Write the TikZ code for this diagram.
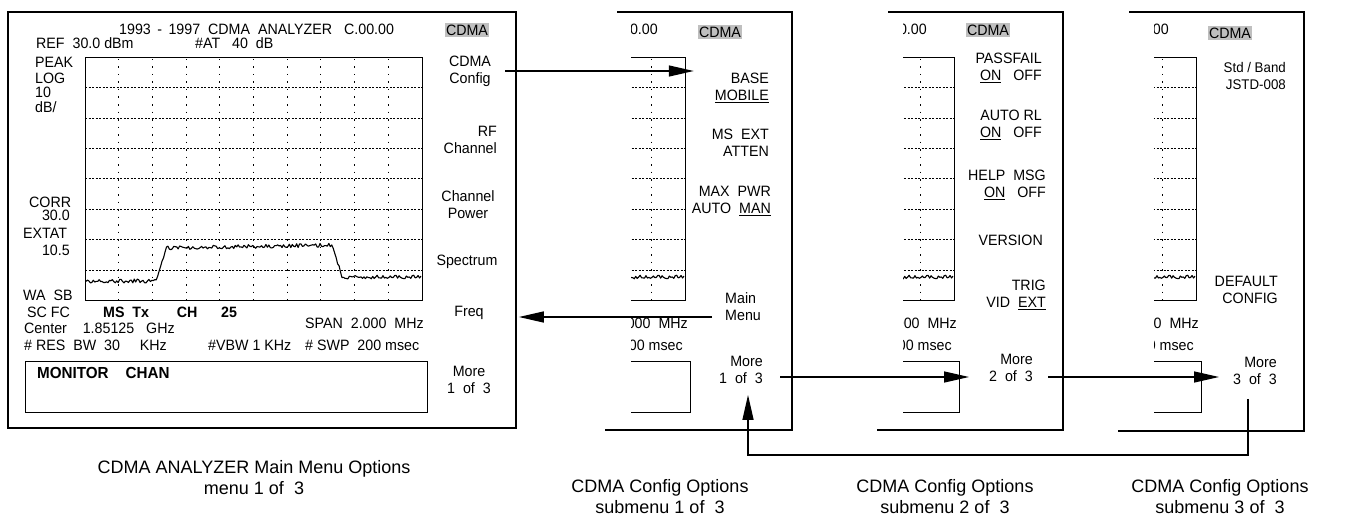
\documentclass[tikz,border=0pt]{standalone}
\usepackage{fontspec}
\setmainfont{Liberation Sans}
\newfontfamily\scrfont[FakeStretch=0.95]{Liberation Sans}
\usetikzlibrary{positioning, arrows.meta}

% graticule, sweep and message box of the analyzer screen
\newcommand{\screengrid}{%
  \pgfmathsetseed{7}%
  \draw[thick] (85,57) rectangle (422,300);
  \foreach \gy in {1,...,7}
    \draw[hgrid] (85,{57+30.4*\gy}) -- (422,{57+30.4*\gy});
  \foreach \gx in {1,...,9}
    \draw[vgrid] ({85+33.7*\gx},59) -- ({85+33.7*\gx},300);
  \draw[sweep] plot[domain=86:421, samples=230] (\x,{tracey(\x)+1.9*rand});
  \draw (25,361) rectangle (427,412);
}

\begin{document}
\begin{tikzpicture}[x=1pt, y=-1pt,
  declare function={tracey(\t)=(\t<156) ? 281 : ((\t<167) ? 281-34*(\t-156)/11 : ((\t<332) ? 248-3*(\t-167)/165 : ((\t<342) ? 245+32*(\t-332)/10 : 277)));}]

  \tikzstyle{scr}=[font=\scrfont\fontsize{15}{17}\selectfont, inner sep=0pt]
  \tikzstyle{scrb}=[scr, font=\scrfont\bfseries\fontsize{15}{17}\selectfont]
  \tikzstyle{softkey}=[scr, align=center]
  \tikzstyle{rkey}=[scr, align=right, anchor=east]
  \tikzstyle{hilite}=[scr, fill=black!25, inner sep=1.5pt]
  \tikzstyle{panel}=[line width=1.5pt]
  \tikzstyle{hgrid}=[line width=.6pt, dash pattern=on 2pt off 1.5pt]
  \tikzstyle{vgrid}=[line width=.9pt, dash pattern=on 1.5pt off 6pt]
  \tikzstyle{sweep}=[line width=1.1pt, line join=round]
  \tikzstyle{arr}=[line width=1.4pt, -{Triangle[length=25pt, width=11pt]}]
  \tikzstyle{capt}=[align=center, font=\fontsize{18}{21}\selectfont]

  \useasboundingbox[fill=white] (0,0) rectangle (1350,519);

  % main menu screen
  \draw[panel] (8,12) rectangle (516,428);
  \screengrid
  \node[scr, anchor=base west] (m-title) at (119,35) {1993 \,-\, 1997 \ CDMA \ ANALYZER \ \ C.00.00};
  \node[scr, anchor=base west] (m-ref) at (36,49) {REF \ 30.0 dBm};
  \node[scr, anchor=base west] (m-att) at (195,49) {\#AT \ \ 40 \ dB};
  \node[scr, anchor=base west] (m-peak) at (35,67) {PEAK};
  \node[scr, anchor=base west] (m-log) at (35,84) {LOG};
  \node[scr, anchor=base west] (m-ten) at (35,98) {10};
  \node[scr, anchor=base west] (m-db) at (35,112) {dB/};
  \node[scr, anchor=base west] (m-corr) at (29,207) {CORR};
  \node[scr, anchor=base east] (m-corrv) at (70,220) {30.0};
  \node[scr, anchor=base west] (m-extat) at (23,238) {EXTAT};
  \node[scr, anchor=base east] (m-extatv) at (70,255) {10.5};
  \node[scr, anchor=base west] (m-wasb) at (23,300) {WA \ SB};
  \node[scr, anchor=base west] (m-scfc) at (27,317) {SC FC};
  \node[scrb, anchor=base west] (m-chan) at (103,317) {MS \ Tx \ \ \ \ \ \ CH \ \ \ \ \ 25};
  \node[scr, anchor=base west] (m-center) at (24,333) {Center \ \ \ 1.85125 \ \ GHz};
  \node[scr, anchor=base west] (m-span) at (305,328) {SPAN \ 2.000 \ MHz};
  \node[scr, anchor=base west] (m-res) at (24,350) {\# RES \ BW \ 30 \ \ \ \ KHz};
  \node[scr, anchor=base west] (m-vbw) at (208,350) {\#VBW 1 KHz};
  \node[scr, anchor=base west] (m-swp) at (305,350) {\# SWP \ 200 msec};
  \node[scrb, anchor=base west, font=\scrfont\bfseries\fontsize{16}{17}\selectfont] (m-msg) at (37,378) {MONITOR \ \ \ CHAN};

  \node[hilite] (m-cdma) at (467,30) {CDMA};
  \node[softkey] (m-cfg) at (470,71) {CDMA\\Config};
  \node[rkey] (m-rf) at (497,140) {RF\\Channel};
  \node[softkey] (m-pwr) at (468,205) {Channel\\Power};
  \node[softkey] (m-spec) at (467,262) {Spectrum};
  \node[softkey] (m-freq) at (469,313) {Freq};
  \node[softkey] (m-more) at (469,380) {More\\1 \ of \ 3};

  % submenu 1
  \begin{scope}
    \clip (631,15) rectangle (700,425);
    \begin{scope}[xshift=263pt]
      \screengrid
      \node[scr, anchor=base east] (a-ver) at (395,35) {C.00.00};
      \node[scr, anchor=base east] (a-span) at (425,328) {2.000 \ MHz};
      \node[scr, anchor=base east] (a-swp) at (420,350) {200 msec};
    \end{scope}
  \end{scope}
  \draw[panel] (617,12) -- (792,12) -- (792,430) -- (605,430);
  \node[hilite] (s1-cdma) at (720,32) {CDMA};
  \node[rkey] (s1-base) at (769,88) {BASE\\\underline{MOBILE}};
  \node[rkey] (s1-ext) at (769,143) {MS \ EXT\\ATTEN};
  \node[rkey] (s1-max) at (771,201) {MAX \ PWR\\AUTO \ \underline{MAN}};
  \node[scr, align=left, anchor=west] (s1-main) at (725,307) {Main\\Menu};
  \node[rkey] (s1-more) at (763,370) {More\\1 \ of \ 3};

  % submenu 2
  \begin{scope}
    \clip (903,15) rectangle (970,425);
    \begin{scope}[xshift=532pt]
      \screengrid
      \node[scr, anchor=base east] (b-ver) at (395,35) {C.00.00};
      \node[scr, anchor=base east] (b-span) at (425,328) {2.000 \ MHz};
      \node[scr, anchor=base east] (b-swp) at (420,350) {200 msec};
    \end{scope}
  \end{scope}
  \draw[panel] (888,12) -- (1063,12) -- (1063,430) -- (877,430);
  \node[hilite] (s2-cdma) at (988,30) {CDMA};
  \node[rkey] (s2-pass) at (1042,68) {PASSFAIL\\\underline{ON} \ \ OFF};
  \node[rkey] (s2-arl) at (1042,125) {AUTO RL\\\underline{ON} \ \ OFF};
  \node[rkey] (s2-help) at (1046,185) {HELP \ MSG\\\underline{ON} \ \ OFF};
  \node[rkey] (s2-ver) at (1043,240) {VERSION};
  \node[rkey] (s2-trig) at (1046,295) {TRIG\\VID \ \underline{EXT}};
  \node[rkey] (s2-more) at (1033,368) {More\\2 \ of \ 3};

  % submenu 3
  \begin{scope}
    \clip (1154,15) rectangle (1210,425);
    \begin{scope}[xshift=774pt]
      \screengrid
      \node[scr, anchor=base east] (c-ver) at (395,35) {C.00.00};
      \node[scr, anchor=base east] (c-span) at (425,328) {2.000 \ MHz};
      \node[scr, anchor=base east] (c-swp) at (420,350) {200 msec};
    \end{scope}
  \end{scope}
  \draw[panel] (1129,12) -- (1304,12) -- (1304,431) -- (1118,431);
  \node[hilite] (s3-cdma) at (1230,33) {CDMA};
  \node[rkey, font=\scrfont\fontsize{14}{17}\selectfont] (s3-std) at (1286,76) {Std / Band\\JSTD-008};
  \node[rkey] (s3-def) at (1278,290) {DEFAULT\\CONFIG};
  \node[rkey] (s3-more) at (1277,371) {More\\3 \ of \ 3};

  \coordinate (ret) at (1000,455);

  \draw[arr] ([xshift=14pt]m-cfg.east) -- ([xshift=-21pt]s1-base.west |- m-cfg.east);
  \draw[arr] ([xshift=-13pt,yshift=-10pt]s1-main.west) -- ([xshift=35pt,yshift=-4pt]m-freq.east);
  \draw[arr] ([xshift=17pt,yshift=-7pt]s1-more.east) -- ([xshift=-20pt,yshift=-9pt]s2-more.west);
  \draw[arr] ([xshift=15pt,yshift=-9pt]s2-more.east) -- ([xshift=-14pt,yshift=-6pt]s3-more.west);
  \draw[arr] ([xshift=-7pt,yshift=-14pt]s3-more.south) |- (ret) -| ([xshift=7pt,yshift=-11pt]s1-more.south);

  \node[capt] (cap-m) at (254,478) {CDMA ANALYZER Main Menu Options\\menu 1 of \ 3};
  \node[capt] (cap-s1) at (660,497) {CDMA Config Options\\submenu 1 of \ 3};
  \node[capt] (cap-s2) at (945,497) {CDMA Config Options\\submenu 2 of \ 3};
  \node[capt] (cap-s3) at (1220,497) {CDMA Config Options\\submenu 3 of \ 3};
\end{tikzpicture}
\end{document}
